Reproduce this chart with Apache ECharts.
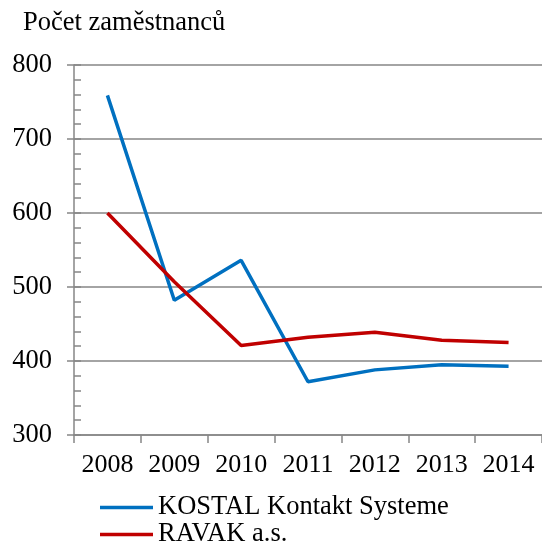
<!DOCTYPE html>
<html lang="cs">
<head>
  <meta charset="UTF-8">
  <title>Počet zaměstnanců</title>
  <script src="https://cdn.jsdelivr.net/npm/echarts@6/dist/echarts.min.js"></script>
  <style>
    html, body { margin: 0; padding: 0; background: #fff; }
    #chart { width: 542px; height: 544px; }
  </style>
</head>
<body>
<div id="chart"></div>
<script>
  // data
  var years = ['2008', '2009', '2010', '2011', '2012', '2013', '2014'];
  var kostal = [759, 482, 536, 372, 388, 395, 393];
  var ravak = [600, 507, 421, 432, 439, 428, 425];
  var seriesNames = ['KOSTAL Kontakt Systeme', 'RAVAK a.s.'];
  var yMin = 300, yMax = 800, yStep = 100;

  var serif = '"Liberation Serif", "DejaVu Serif", serif';
  var gray = '#868686';

  var chart = echarts.init(document.getElementById('chart'));
  chart.setOption({
    animation: false,
    title: {
      text: 'Počet zaměstnanců',
      left: 18, top: 5,
      textStyle: { fontFamily: serif, fontSize: 26.5, fontWeight: 'normal', color: '#000' }
    },
    legend: {
      orient: 'vertical',
      left: 100, top: 494, height: 80,
      padding: 0,
      icon: 'rect',
      itemWidth: 53, itemHeight: 3.5, itemGap: 0,
      textStyle: { fontFamily: serif, fontSize: 26.5, color: '#000' },
      data: seriesNames
    },
    grid: { left: 74, top: 65, bottom: 109, right: -9 },
    xAxis: {
      type: 'category',
      data: years,
      boundaryGap: true,
      axisLine: { lineStyle: { color: gray, width: 1.5 } },
      axisTick: { show: true, interval: 0, length: 8, lineStyle: { color: gray, width: 1.5 } },
      axisLabel: { interval: 0, hideOverlap: false, margin: 17, fontFamily: serif, fontSize: 26, color: '#000' }
    },
    yAxis: [{
      type: 'value',
      min: yMin, max: yMax, interval: yStep,
      axisLine: { show: true, lineStyle: { color: gray, width: 1.5 } },
      axisTick: { show: true, inside: true, length: 7, lineStyle: { color: gray, width: 1.5 } },
      minorTick: { show: true, splitNumber: 5, length: 7, lineStyle: { color: gray, width: 1.5 } },
      splitLine: { show: true, lineStyle: { color: gray, width: 1.5 } },
      axisLabel: { margin: 22, fontFamily: serif, fontSize: 26.5, color: '#000' }
    }, {
      // outer part of the major ticks
      type: 'value', position: 'left',
      min: yMin, max: yMax, interval: yStep,
      axisLine: { show: false },
      axisTick: { show: true, length: 7, lineStyle: { color: gray, width: 1.5 } },
      splitLine: { show: false },
      axisLabel: { show: false }
    }],
    series: [{
      name: seriesNames[0], type: 'line', data: kostal,
      symbol: 'none', lineStyle: { color: '#0070C0', width: 3.5 }, itemStyle: { color: '#0070C0' }
    }, {
      name: seriesNames[1], type: 'line', data: ravak,
      symbol: 'none', lineStyle: { color: '#C00000', width: 3.5 }, itemStyle: { color: '#C00000' }
    }]
  });
</script>
</body>
</html>
